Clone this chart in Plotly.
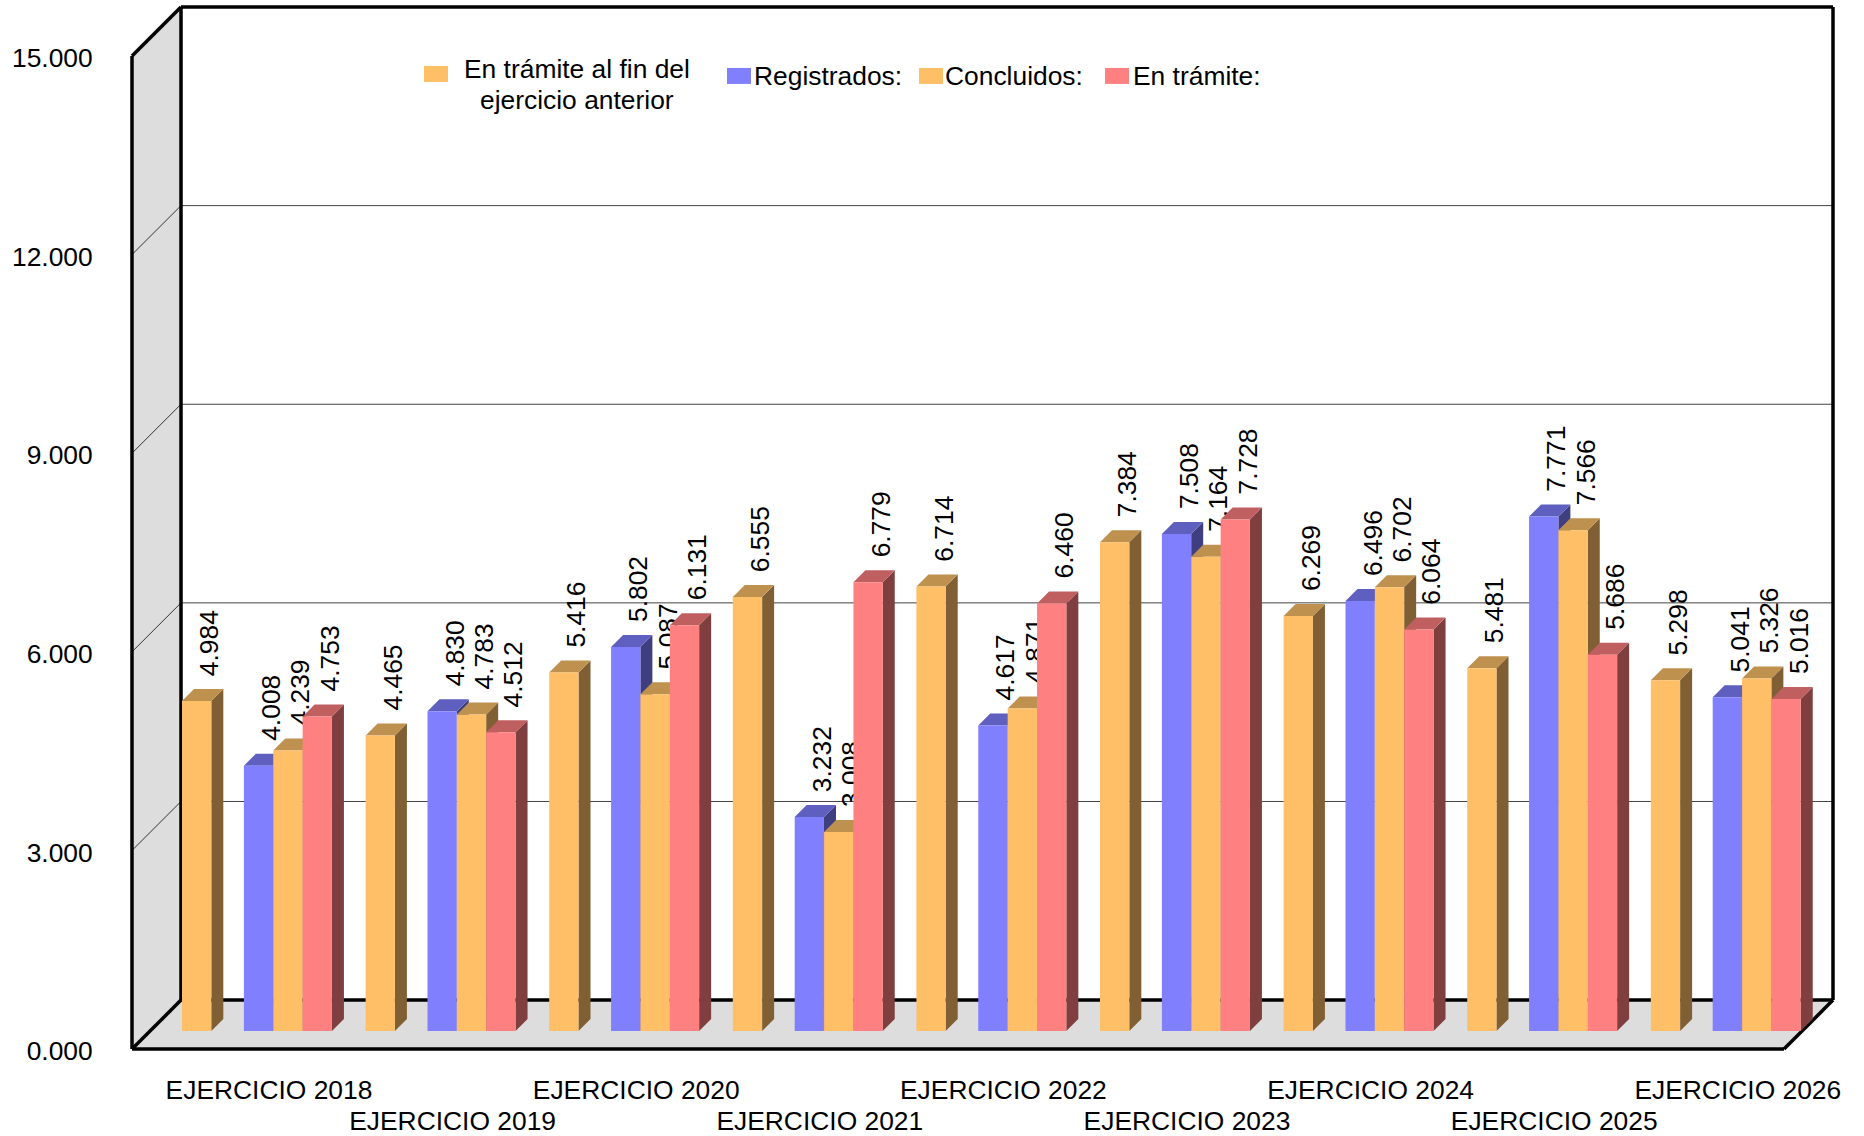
import plotly.graph_objects as go

# ---------- data ----------
years = ["EJERCICIO 2018", "EJERCICIO 2019", "EJERCICIO 2020", "EJERCICIO 2021", "EJERCICIO 2022",
         "EJERCICIO 2023", "EJERCICIO 2024", "EJERCICIO 2025", "EJERCICIO 2026"]
anterior = [4984, 4465, 5416, 6555, 6714, 7384, 6269, 5481, 5298]
registrados = [4008, 4830, 5802, 3232, 4617, 7508, 6496, 7771, 5041]
concluidos = [4239, 4783, 5087, 3008, 4871, 7164, 6702, 7566, 5326]
tramite = [4753, 4512, 6131, 6779, 6460, 7728, 6064, 5686, 5016]
y_ticks = [0, 3000, 6000, 9000, 12000, 15000]

# ---------- layout constants ----------
W, H = 1864, 1136
PLOT_H = 1128                   # height the plot area actually takes on the page
FONT = "Liberation Sans"
FS = 26.4
PX_PER_VAL = 994 / 15000.0      # vertical pixels per unit of value
PX_PER_YEAR = 183.6             # horizontal pixels per year group
X0_PX = 269.0                   # pixel of the first year's label centre
Y0_PX = 1050.0                  # pixel of value 0 on the front edge


def vx(px):  # horizontal pixel length -> x units
    return px / PX_PER_YEAR


def vy(px):  # vertical pixel length -> value units
    return px / PX_PER_VAL


def X(px):
    return (px - X0_PX) / PX_PER_YEAR


def Y(px):
    return (Y0_PX - px) / PX_PER_VAL


xrange_ = [X(0), X(W)]
yrange_ = [Y(PLOT_H), Y(0)]

BAR_W = vx(29.3)
BAR_BASE = vy(18)
DEPTH_X, DEPTH_Y = vx(12), vy(12)
WALL_X, WALL_Y = vx(49), vy(49)
LEFT, RIGHT = X(132), X(1784)

series = [
    ("En trámite al fin del ejercicio anterior", anterior, -0.394, "#FFBF66", "#BF914F", "#7F5F33"),
    ("Registrados:", registrados, -0.057, "#8080FF", "#5F5FBF", "#3F3F7F"),
    ("Concluidos:", concluidos, 0.103, "#FFBF66", "#BF914F", "#7F5F33"),
    ("En trámite:", tramite, 0.263, "#FF8080", "#BF5F5F", "#7F3F3F"),
]

fig = go.Figure()
shapes = []
annotations = []

# ---------- walls and floor ----------
GRAY = "#DDDDDD"
shapes.append(dict(type="path", layer="below", xref="x", yref="y",
                   path=f"M{LEFT},0 L{LEFT},15000 L{LEFT+WALL_X},{15000+WALL_Y} L{LEFT+WALL_X},{WALL_Y} Z",
                   fillcolor=GRAY, line=dict(width=0)))
shapes.append(dict(type="path", layer="below", xref="x", yref="y",
                   path=f"M{LEFT},0 L{RIGHT},0 L{RIGHT+WALL_X},{WALL_Y} L{LEFT+WALL_X},{WALL_Y} Z",
                   fillcolor=GRAY, line=dict(width=0)))
for v in y_ticks[1:-1]:
    shapes.append(dict(type="line", layer="below", xref="x", yref="y", x0=LEFT + WALL_X, x1=RIGHT + WALL_X,
                       y0=v + WALL_Y, y1=v + WALL_Y, line=dict(color="#444444", width=1)))
    shapes.append(dict(type="line", layer="below", xref="x", yref="y", x0=LEFT, x1=LEFT + WALL_X,
                       y0=v, y1=v + WALL_Y, line=dict(color="#333333", width=1)))
frame = [
    (LEFT, 0, LEFT, 15000), (LEFT, 15000, LEFT + WALL_X, 15000 + WALL_Y),
    (LEFT + WALL_X, 15000 + WALL_Y, RIGHT + WALL_X, 15000 + WALL_Y),
    (RIGHT + WALL_X, 15000 + WALL_Y, RIGHT + WALL_X, WALL_Y),
    (LEFT + WALL_X, 15000 + WALL_Y, LEFT + WALL_X, WALL_Y),
    (LEFT + WALL_X, WALL_Y, RIGHT + WALL_X, WALL_Y),
    (LEFT, 0, LEFT + WALL_X, WALL_Y), (RIGHT, 0, RIGHT + WALL_X, WALL_Y),
    (LEFT, 0, RIGHT, 0),
]
for a, b, c, d in frame:
    shapes.append(dict(type="line", layer="below", xref="x", yref="y", x0=a, y0=b, x1=c, y1=d,
                       line=dict(color="black", width=3.5)))

# ---------- side and top faces (drawn left to right), labels behind all bars ----------
for i in range(len(years)):
    for name, vals, off, front, top, side in series:
        v = vals[i]
        x0 = i + off - BAR_W / 2
        x1 = i + off + BAR_W / 2
        t = BAR_BASE + v
        fig.add_trace(go.Scatter(x=[x1, x1, x1 + DEPTH_X, x1 + DEPTH_X, x1],
                                 y=[BAR_BASE, t, t + DEPTH_Y, BAR_BASE + DEPTH_Y, BAR_BASE],
                                 mode="lines", fill="toself", fillcolor=side, line=dict(width=0),
                                 hoverinfo="skip", showlegend=False))
        fig.add_trace(go.Scatter(x=[x0, x1, x1 + DEPTH_X, x0 + DEPTH_X, x0],
                                 y=[t, t, t + DEPTH_Y, t + DEPTH_Y, t],
                                 mode="lines", fill="toself", fillcolor=top, line=dict(width=0),
                                 hoverinfo="skip", showlegend=False))
        lc = x1 - vx(4.5)
        shapes.append(dict(type="rect", layer="between", xref="x", yref="y",
                           x0=lc - vx(15), x1=lc + vx(15), y0=t + vy(25), y1=t + vy(25 + 66),
                           fillcolor="rgba(0,0,0,0)", line=dict(width=0),
                           label=dict(text=f"{v:,}".replace(",", "."), textangle=-90,
                                      textposition="middle center", padding=0,
                                      font=dict(family=FONT, size=FS, color="black"))))

# ---------- front faces, on an overlaid subplot so they cover side faces ----------
for name, vals, off, front, top, side in series:
    fig.add_trace(go.Bar(x=[i + off for i in range(len(years))], y=vals, base=[BAR_BASE] * len(vals),
                         width=BAR_W, name=name, marker=dict(color=front, line=dict(width=0)),
                         xaxis="x2", yaxis="y2", showlegend=False))

# ---------- hand-placed legend ----------
legend_swatches = [("#FFBF66", 424, 66), ("#8080FF", 727, 68), ("#FFBF66", 919, 68), ("#FF8080", 1105, 68)]
legend_texts = [
    ("En trámite al fin del", 577, 69, "center"),
    ("ejercicio anterior", 577, 100, "center"),
    ("Registrados:", 752, 76, "left"),
    ("Concluidos:", 943, 76, "left"),
    ("En trámite:", 1131, 76, "left"),
]
for col, px, py in legend_swatches:
    shapes.append(dict(type="rect", layer="above", xref="paper", yref="paper",
                       x0=px / W, x1=(px + 24) / W, y0=1 - py / PLOT_H, y1=1 - (py + 16) / PLOT_H,
                       fillcolor=col, line=dict(width=0)))
for txt, tx, ty, anchor in legend_texts:
    annotations.append(dict(text=txt, xref="paper", yref="paper", x=tx / W, y=1 - ty / PLOT_H,
                            xanchor=anchor, yanchor="middle", showarrow=False,
                            font=dict(family=FONT, size=FS, color="black")))

tick_font = dict(family=FONT, size=FS, color="black")
idx = list(range(len(years)))
common_x = dict(range=xrange_, tickmode="array", showgrid=False, zeroline=False, showline=False,
                ticks="outside", tickcolor="rgba(0,0,0,0)", tickwidth=1, tickangle=0,
                tickfont=tick_font, anchor="free", position=(PLOT_H - Y0_PX) / PLOT_H)
fig.update_layout(
    width=W, height=H,
    autosize=False,
    margin=dict(l=0, r=0, t=0, b=0, pad=0),
    paper_bgcolor="white", plot_bgcolor="white",
    barmode="overlay",
    separators=",.",
    showlegend=False,
    shapes=shapes, annotations=annotations,
    font=dict(family=FONT, size=FS, color="black"),
    xaxis=dict(domain=[0, 1], tickvals=idx[0::2], ticktext=years[0::2], ticklen=17, **common_x),
    xaxis2=dict(domain=[0, 1], overlaying="x", tickvals=idx[1::2], ticktext=years[1::2], ticklen=48, **common_x),
    yaxis=dict(domain=[0, 1], range=yrange_, tickmode="array", tickvals=y_ticks,
               ticktext=[f"{v:,}".replace(",", ".") if v else "0.000" for v in y_ticks],
               showgrid=False, zeroline=False, showline=False, ticks="outside", ticklen=34,
               ticklabelshift=2,
               tickcolor="rgba(0,0,0,0)", tickfont=tick_font, anchor="free", position=132 / W),
    yaxis2=dict(domain=[0, 1], range=yrange_, overlaying="y", visible=False),
)
fig.write_html("out.html", config=dict(displayModeBar=False, responsive=False),
               post_script="document.body.style.margin='0';document.documentElement.style.overflow='hidden';")
